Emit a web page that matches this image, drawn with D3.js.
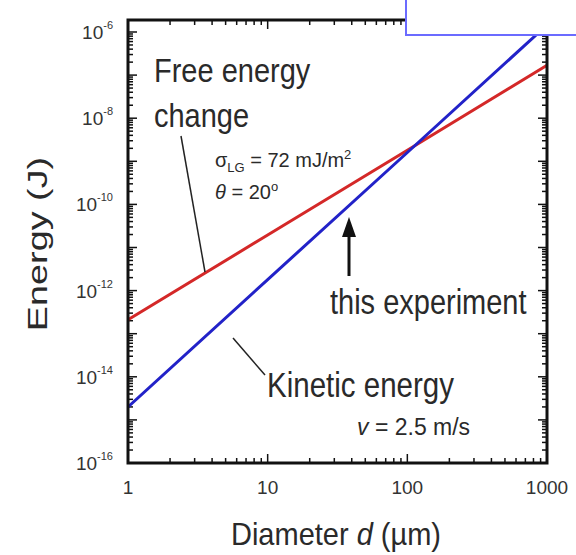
<!DOCTYPE html>
<html>
<head>
<meta charset="utf-8">
<script src="https://cdn.jsdelivr.net/npm/d3@7"></script>
<style>
body { margin: 0; background: #fff; }
svg { font-family: "Liberation Sans", Arial, sans-serif; }
</style>
</head>
<body>
<div id="chart"></div>
<script>
// values
var diameters = [1, 10, 100, 1000]
var freeEnergy = [2.1e-13, 1.95e-11, 1.8e-9, 1.7e-7]
var kineticEnergy = [2.0e-15, 1.8e-12, 1.6e-9, 1.45e-6]
var xTickValues = [1, 10, 100, 1000]
var yLabelExponents = [-6, -8, -10, -12, -14, -16]

function draw_chart() {
    var width = 576, height = 555
    var mLeft = 128, mRight = 547, mTop = 20, mBottom = 463

    var svg = d3.select("#chart").append("svg").attr("width", width).attr("height", height)

    var x = d3.scaleLog().domain([1, 1000]).range([mLeft, mRight])
    var y = d3.scaleLog().domain([1e-16, 1e-6]).range([mBottom, 32])

    svg.append("clipPath").attr("id", "plot-clip")
        .append("rect").attr("x", mLeft).attr("y", mTop).attr("width", mRight - mLeft).attr("height", mBottom - mTop)

    // minor + major ticks for the log axes
    function logTicks(lo, hi) {
        var out = []
        for (var e = lo; e < hi; e++) {
            for (var m = 1; m < 10; m++) out.push({ v: m * Math.pow(10, e), major: m == 1 })
        }
        out.push({ v: Math.pow(10, hi), major: true })
        return out
    }

    var ticks = svg.append("g").attr("stroke", "#111").attr("stroke-width", 1.5)
    logTicks(0, 3).forEach(function(t) {
        var len = t.major ? 9 : 5
        ticks.append("line").attr("x1", x(t.v)).attr("x2", x(t.v)).attr("y1", mBottom).attr("y2", mBottom - len)
        ticks.append("line").attr("x1", x(t.v)).attr("x2", x(t.v)).attr("y1", mTop).attr("y2", mTop + len)
    })
    logTicks(-16, -6).forEach(function(t) {
        var len = t.major ? 9 : 5
        ticks.append("line").attr("y1", y(t.v)).attr("y2", y(t.v)).attr("x1", mLeft).attr("x2", mLeft + len)
        ticks.append("line").attr("y1", y(t.v)).attr("y2", y(t.v)).attr("x1", mRight).attr("x2", mRight - len)
    })

    var line = d3.line()
        .x(function(d) { return x(d[0]) })
        .y(function(d) { return y(d[1]) })

    var g = svg.append("g").attr("clip-path", "url(#plot-clip)")
    g.append("path").datum(d3.zip(diameters, freeEnergy))
        .attr("fill", "none").attr("stroke", "#d42828").attr("stroke-width", 3).attr("d", line)
    g.append("path").datum(d3.zip(diameters, kineticEnergy))
        .attr("fill", "none").attr("stroke", "#2222c8").attr("stroke-width", 3).attr("d", line)

    // frame
    svg.append("rect").attr("x", mLeft).attr("y", mTop).attr("width", mRight - mLeft).attr("height", mBottom - mTop)
        .attr("fill", "none").attr("stroke", "#111").attr("stroke-width", 3)

    // x tick labels
    svg.append("g").selectAll("text").data(xTickValues).enter().append("text")
        .attr("x", function(d) { return x(d) })
        .attr("y", 494)
        .attr("text-anchor", "middle")
        .attr("font-size", 19)
        .attr("fill", "#333")
        .text(function(d) { return d })

    // y tick labels, 10 with superscript exponent
    var yl = svg.append("g").selectAll("text").data(yLabelExponents).enter().append("text")
        .attr("x", 113)
        .attr("y", function(d) { return y(Math.pow(10, d)) + 7 })
        .attr("text-anchor", "end")
        .attr("font-size", 19)
        .attr("fill", "#333")
    yl.append("tspan").text("10")
    yl.append("tspan").attr("dy", -10).attr("font-size", 11).text(function(d) { return "-" + Math.abs(d) })

    // text stretched a bit vertically, like the picture
    function label(px, py, size, sy) {
        return svg.append("text")
            .attr("transform", "translate(" + px + "," + py + ") scale(1," + sy + ")")
            .attr("font-size", size).attr("fill", "#2a2a2a")
    }

    label(336, 545, 29, 1.06).attr("text-anchor", "middle")
        .html('Diameter <tspan font-style="italic">d</tspan> (µm)')
    svg.append("text").attr("transform", "translate(47,244) rotate(-90) scale(1.35,1)").attr("text-anchor", "middle")
        .attr("font-size", 28).attr("fill", "#2a2a2a").text("Energy (J)")

    label(154, 82, 29, 1.16).text("Free energy")
    label(154, 127, 29, 1.16).text("change")
    svg.append("line").attr("x1", 181).attr("y1", 136).attr("x2", 205).attr("y2", 272)
        .attr("stroke", "#222").attr("stroke-width", 1.5)

    var s1 = label(215, 167, 20, 1.05)
    s1.append("tspan").text("σ")
    s1.append("tspan").attr("dy", 5).attr("font-size", 13).text("LG")
    s1.append("tspan").attr("dy", -5).text(" = 72 mJ/m")
    s1.append("tspan").attr("dy", -8).attr("font-size", 13).text("2")
    var s2 = label(215, 199, 20, 1.05)
    s2.append("tspan").attr("font-style", "italic").text("θ")
    s2.append("tspan").text(" = 20")
    s2.append("tspan").attr("dy", -8).attr("font-size", 13).text("o")

    // arrow to this experiment
    svg.append("line").attr("x1", 349).attr("y1", 276).attr("x2", 349).attr("y2", 232)
        .attr("stroke", "#111").attr("stroke-width", 3)
    svg.append("path").attr("d", "M349,217 L342,237 L356,237 Z").attr("fill", "#111")

    label(330, 314, 29, 1.2).text("this experiment")
    label(267, 397, 29.5, 1.2).text("Kinetic energy")
    svg.append("line").attr("x1", 233).attr("y1", 338).attr("x2", 265).attr("y2", 375)
        .attr("stroke", "#222").attr("stroke-width", 1.5)
    var s3 = label(357, 435, 23, 1.05)
    s3.append("tspan").attr("font-style", "italic").text("v")
    s3.append("tspan").text(" = 2.5 m/s")

    // white box with blue border over the top right
    svg.append("rect").attr("x", 406).attr("y", -2).attr("width", 175).attr("height", 37)
        .attr("fill", "#fff").attr("stroke", "#6b6bff").attr("stroke-width", 2)
}

draw_chart()
</script>
</body>
</html>
